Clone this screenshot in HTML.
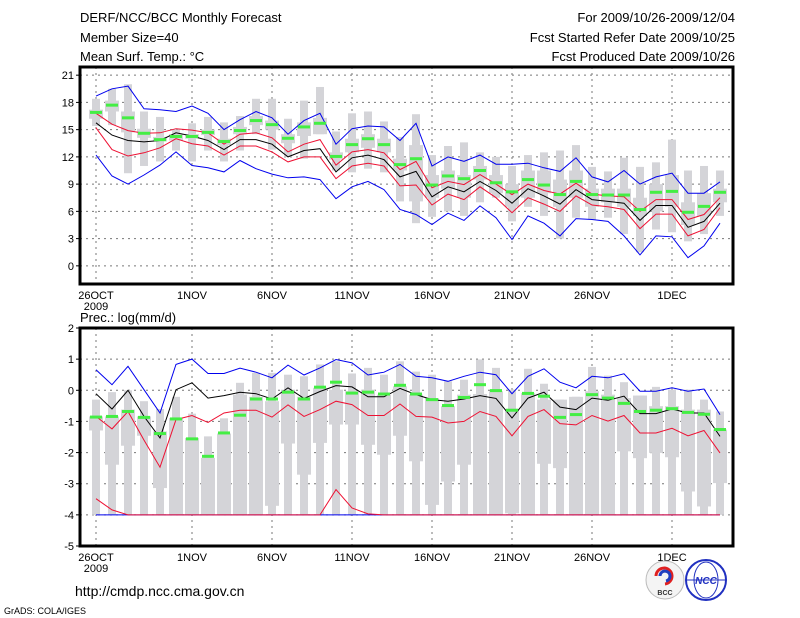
<!DOCTYPE html>
<html><head><meta charset="utf-8"><style>
html,body{margin:0;padding:0;background:#fff;}
svg{display:block;font-family:"Liberation Sans",sans-serif;}
</style></head><body>
<svg id="c" width="800" height="618" xmlns="http://www.w3.org/2000/svg">
<rect width="800" height="618" fill="#fff"/>
<g font-size="13" fill="#000">
<text x="80" y="22">DERF/NCC/BCC Monthly Forecast</text>
<text x="80" y="42">Member Size=40</text>
<text x="80" y="61">Mean Surf. Temp.: °C</text>
<text x="735" y="22" text-anchor="end">For 2009/10/26-2009/12/04</text>
<text x="735" y="42" text-anchor="end">Fcst Started Refer Date 2009/10/25</text>
<text x="735" y="61" text-anchor="end">Fcst Produced Date 2009/10/26</text>
</g>
<text x="80" y="322" font-size="13">Prec.: log(mm/d)</text>
<g id="top"></g>
<g id="bot"></g>
<text x="75" y="596" font-size="14">http://cmdp.ncc.cma.gov.cn</text>
<text x="4" y="614" font-size="9">GrADS: COLA/IGES</text>
<g>
<circle cx="665" cy="580" r="19" fill="#f4f4f4" stroke="#bbb"/>
<path d="M656 576 a8 8 0 1 1 9 8" fill="none" stroke="#e02020" stroke-width="3"/>
<path d="M660 576 a5 5 0 1 1 6 5" fill="none" stroke="#2040c0" stroke-width="3"/>
<text x="665" y="595" font-size="7" text-anchor="middle" font-weight="bold" fill="#333">BCC</text>
</g>
<g>
<circle cx="706" cy="580" r="20" fill="#fff" stroke="#2030c0" stroke-width="2"/>
<ellipse cx="706" cy="580" rx="12" ry="18" fill="none" stroke="#2030c0"/>
<line x1="686" y1="580" x2="726" y2="580" stroke="#2030c0"/>
<text x="706" y="584" font-size="10" text-anchor="middle" font-style="italic" font-weight="bold" fill="#2030c0">NCC</text>
</g>
</svg>
<script>
// ---- Temperature data ----
const days = ["26OCT","1NOV","6NOV","11NOV","16NOV","21NOV","26NOV","1DEC"];
const dayIdx = [0,6,11,16,21,26,31,36];
const tTicks = [0,3,6,9,12,15,18,21];
const tBlueHi = [18.7,19.5,19.8,17.3,17.2,17.0,17.6,16.8,15.0,16.1,17.0,16.3,14.5,16.0,16.8,13.4,15.1,15.4,15.3,13.8,15.7,11.0,12.0,11.5,12.2,11.2,11.2,11.3,10.8,10.4,11.9,9.8,9.25,10.5,9.0,9.8,10.2,8.0,8.0,9.25];
const tBlueLo = [12.2,9.9,9.0,10.0,11.1,12.55,11.05,10.8,10.35,11.6,10.7,10.1,9.7,9.8,9.5,7.4,8.7,9.3,8.4,6.2,5.65,4.55,5.8,5.0,6.6,5.3,2.9,5.5,4.7,3.3,5.2,5.1,4.9,3.3,1.2,3.3,3.2,0.9,2.2,4.7];
const tMean = [15.75,14.4,13.8,13.65,13.8,14.65,14.3,13.8,12.8,13.9,13.9,13.4,12.0,12.7,12.9,10.35,11.9,12.2,11.7,9.8,10.4,7.6,8.7,8.15,9.3,8.3,6.9,8.5,7.7,6.8,8.4,7.3,7.1,6.9,5.0,6.65,6.65,4.25,4.9,6.9];
const tRedHi = [16.8,15.6,14.9,14.6,14.65,15.1,14.95,14.65,13.4,14.5,14.65,14.1,12.55,13.4,13.9,11.1,12.55,12.8,12.45,10.6,11.5,8.6,9.3,8.95,10.05,9.0,7.85,9.0,8.3,7.9,9.1,7.9,7.7,7.6,6.0,7.3,7.3,5.1,5.65,7.5];
const tRedLo = [15.2,12.8,12.1,12.45,13.0,14.0,13.45,13.2,12.2,13.2,13.2,12.55,11.45,12.0,12.0,9.6,11.0,11.3,11.0,8.8,8.9,6.7,7.9,7.3,8.7,7.5,5.85,7.5,6.8,6.0,7.7,6.7,6.5,6.2,4.1,5.7,5.7,3.3,4.0,6.4];
const tGreen = [16.9,17.7,16.3,14.6,13.9,14.25,14.25,14.7,13.7,14.9,16.0,15.55,14.05,15.3,15.7,12.05,13.35,14.0,13.35,11.15,11.8,8.9,9.9,9.6,10.5,9.15,8.15,9.5,8.9,7.85,9.3,7.85,7.8,7.8,6.2,8.1,8.2,5.9,6.55,8.1];
const tBarHi = [18.4,19.5,20.0,17.0,16.4,15.0,15.7,16.4,15.8,16.5,18.4,18.4,16.2,18.2,19.7,14.8,16.8,17.0,15.9,14.2,16.7,12.2,13.2,13.6,12.5,12.0,11.0,12.2,12.5,12.7,13.3,10.9,10.4,11.9,10.9,11.4,13.9,10.5,11.0,10.5];
const tBarLo = [15.4,15.5,10.2,11.0,11.5,12.7,11.5,12.7,11.5,12.7,14.5,12.8,12.0,11.8,14.5,10.5,10.3,10.7,10.3,7.1,4.7,5.4,6.0,5.5,7.0,7.5,4.9,6.5,5.5,3.0,5.3,5.1,5.3,3.5,1.5,4.0,3.7,2.7,3.5,5.5];
const tBoxHi = [17.2,18.2,17.0,15.1,14.2,14.5,14.5,15.0,14.0,15.3,16.5,16.0,14.5,15.8,16.3,12.5,14.0,14.5,14.0,11.8,13.3,10.0,10.5,10.0,11.0,10.0,9.0,10.5,10.5,9.5,10.5,8.5,8.5,8.5,7.5,9.0,10.0,7.0,8.0,8.5];
const tBoxLo = [16.2,17.0,14.7,14.1,13.7,13.8,14.0,14.4,13.3,14.5,15.5,15.0,13.5,14.3,14.5,11.7,12.5,13.0,12.5,10.5,7.1,7.5,8.5,7.5,9.5,8.0,6.5,7.5,8.0,6.5,7.5,6.5,7.0,6.5,5.5,6.0,6.5,4.5,5.5,7.0];
// ---- Precipitation data ----
const pTicks = [-5,-4,-3,-2,-1,0,1,2];
const pBlueHi = [0.66,0.18,0.77,0.02,-0.73,0.83,1.0,0.54,0.54,0.71,0.58,0.4,0.81,0.49,0.72,0.99,0.88,0.49,0.58,0.83,0.45,0.4,0.29,0.45,0.58,0.5,-0.11,0.45,0.69,0.26,0.08,0.45,0.4,0.53,-0.03,-0.03,0.08,-0.03,0.04,-0.78];
const pBlueLo = [-4,-4,-4,-4,-4,-4,-4,-4,-4,-4,-4,-4,-4,-4,-4,-4,-4,-4,-4,-4,-4,-4,-4,-4,-4,-4,-4,-4,-4,-4,-4,-4,-4,-4,-4,-4,-4,-4,-4,-4];
const pMean = [-0.11,-0.6,0,-0.84,-1.53,0.02,0.24,-0.25,-0.17,-0.06,-0.11,-0.28,0.08,-0.26,-0.04,0.15,0.11,-0.21,-0.21,0.06,-0.14,-0.3,-0.35,-0.28,-0.17,-0.26,-0.89,-0.25,-0.06,-0.54,-0.62,-0.25,-0.32,-0.19,-0.75,-0.75,-0.6,-0.73,-0.73,-1.48];
const pRedHi = [-0.84,-1.24,-0.68,-1.6,-2.47,-0.94,-0.81,-1.03,-0.73,-0.64,-0.64,-0.86,-0.47,-0.84,-0.62,-0.35,-0.46,-0.81,-0.81,-0.44,-0.84,-0.86,-1.05,-1.0,-0.68,-0.84,-1.46,-0.84,-0.62,-1.07,-1.11,-0.81,-0.99,-0.81,-1.37,-1.37,-1.22,-1.46,-1.29,-2.01];
const pRedLo = [-3.48,-3.84,-4,-4,-4,-4,-4,-4,-4,-4,-4,-4,-4,-4,-4,-3.19,-3.78,-3.97,-4,-4,-4,-4,-4,-4,-4,-4,-4,-4,-4,-4,-4,-4,-4,-4,-4,-4,-4,-4,-4,-4];
const pGreen = [-0.86,-0.84,-0.68,-0.87,-1.39,-0.92,-1.56,-2.12,-1.37,-0.8,-0.28,-0.28,-0.06,-0.28,0.1,0.26,-0.09,-0.06,-0.12,0.16,-0.12,-0.3,-0.49,-0.23,0.18,-0.01,-0.64,-0.1,-0.19,-0.87,-0.78,-0.14,-0.25,-0.42,-0.68,-0.64,-0.59,-0.71,-0.77,-1.26];
const pBarHi = [-0.3,-0.06,0.0,-0.35,-0.6,-0.21,-0.75,-1.48,-0.9,0.24,0.56,0.56,0.5,0.45,0.83,0.93,0.54,0.72,0.5,0.93,0.6,0.5,0.29,0.34,0.99,0.72,0.02,0.69,0.21,-0.3,-0.21,0.75,0.47,0.26,-0.17,0.11,0.02,0.02,-0.3,-0.68];
const pBarLo = [-4,-4,-4,-4,-4,-4,-4,-4,-4,-4,-4,-4,-4,-4,-4,-4,-4,-4,-4,-4,-4,-4,-4,-4,-4,-4,-4,-4,-4,-4,-4,-4,-4,-4,-4,-4,-4,-4,-4,-4];
const pBoxHi = [-0.84,-0.84,-0.62,-0.84,-1.32,-0.89,-1.53,-2.17,-1.39,-0.14,-0.21,-0.35,0.02,-0.21,0.08,0.02,-0.03,0.02,-0.14,0.13,-0.14,-0.25,-0.51,-0.14,-0.12,-0.03,-0.62,-0.09,-0.3,-0.3,-0.21,-0.03,-0.14,-0.25,-0.17,-0.51,-0.51,-0.62,-0.62,-1.26];
const pBoxLo = [-1.29,-2.39,-1.78,-1.46,-3.14,-4,-4,-4,-4,-4,-4,-3.71,-1.71,-2.71,-1.69,-1.1,-1.1,-1.75,-2.07,-1.46,-2.28,-3.68,-2.93,-2.39,-4,-4,-3.95,-4,-2.36,-2.5,-4,-4,-4,-1.96,-2.18,-2.01,-2.15,-3.25,-3.73,-2.98];

const NS="http://www.w3.org/2000/svg";
const X0=80, X1=733;
function xPos(i){return 96+16*i;}
function mk(parent,tag,attrs){const e=document.createElementNS(NS,tag);for(const k in attrs)e.setAttribute(k,attrs[k]);parent.appendChild(e);return e;}

function panel(g,top,bot,vmin,vmax,ticks,d,name){
  const y=v=>bot-(v-vmin)/(vmax-vmin)*(bot-top);
  // grid
  ticks.forEach(t=>{
    const l=mk(g,'line',{x1:X0,x2:X1,y1:y(t),y2:y(t),stroke:'#777','stroke-dasharray':'2,4','stroke-width':1});
    
    
    const tk=mk(g,'line',{x1:X0-4,x2:X0,y1:y(t),y2:y(t),stroke:'#000'});
    
    
    const tx=mk(g,'text',{x:X0-6,y:y(t)+4,'text-anchor':'end','font-size':11});
    tx.textContent=t;
    
    
  });
  dayIdx.forEach((di,k)=>{
    const x=xPos(di);
    const l=mk(g,'line',{x1:x,x2:x,y1:top,y2:bot,stroke:'#777','stroke-dasharray':'2,4'});
    
    
    const tx=mk(g,'text',{x:x,y:bot+15,'text-anchor':'middle','font-size':11});
    tx.textContent=days[k];
    
    
  });
  const yr=mk(g,'text',{x:xPos(0),y:bot+26,'text-anchor':'middle','font-size':11});
  yr.textContent='2009';
  
  
  // bars
  for(let i=0;i<d.barHi.length;i++){
    const x=xPos(i);
    const b=mk(g,'rect',{x:x-4,y:y(d.barHi[i]),width:8,height:Math.max(0,y(d.barLo[i])-y(d.barHi[i])),fill:'#d4d4d8'});
    
    
    const bx=mk(g,'rect',{x:x-7,y:y(d.boxHi[i]),width:14,height:Math.max(0,y(d.boxLo[i])-y(d.boxHi[i])),fill:'#d4d4d8'});
    
    
  }
  const line=(arr,col,nm)=>{
    const p=mk(g,'polyline',{points:arr.map((v,i)=>xPos(i)+','+y(v).toFixed(1)).join(' '),fill:'none',stroke:col,'stroke-width':1});
    
    
  };
  line(d.blueLo,'#0000ee','min-line');
  line(d.blueHi,'#0000ee','max-line');
  line(d.redLo,'#ee1133','lower-spread-line');
  line(d.redHi,'#ee1133','upper-spread-line');
  line(d.mean,'#000','ensemble-mean-line');
  for(let i=0;i<d.green.length;i++){
    const r=mk(g,'rect',{x:xPos(i)-6,y:y(d.green[i])-1.5,width:12,height:3,fill:'#44ee44'});
    
    
  }
  const f=mk(g,'rect',{x:X0,y:top,width:X1-X0,height:bot-top,fill:'none',stroke:'#000','stroke-width':3});
  
  
}
panel(document.getElementById('top'),67,284,-2.0,21.9,tTicks,
 {blueHi:tBlueHi,blueLo:tBlueLo,mean:tMean,redHi:tRedHi,redLo:tRedLo,green:tGreen,barHi:tBarHi,barLo:tBarLo,boxHi:tBoxHi,boxLo:tBoxLo},'temperature');
panel(document.getElementById('bot'),328,546,-5,2,pTicks,
 {blueHi:pBlueHi,blueLo:pBlueLo,mean:pMean,redHi:pRedHi,redLo:pRedLo,green:pGreen,barHi:pBarHi,barLo:pBarLo,boxHi:pBoxHi,boxLo:pBoxLo},'precipitation');
</script>
</body></html>
